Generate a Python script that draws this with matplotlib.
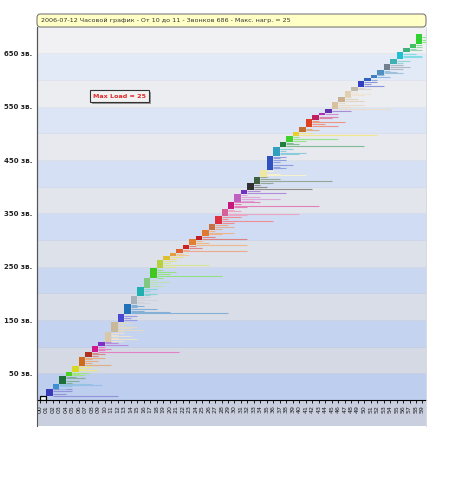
import matplotlib
matplotlib.use("Agg")
import matplotlib.pyplot as plt
from matplotlib.patches import FancyBboxPatch, Rectangle
import matplotlib.colors as mcolors
import numpy as np

# ---------------- data ----------------
title = "2006-07-12 Часовой график - От 10 до 11 - Звонков 686 - Макс. нагр. = 25"
max_load_label = "Max Load = 25"
minutes = list(range(60))
minute_labels = [f"{m:02d}" for m in minutes]

# number of calls starting in each minute (sum = 686)
calls_per_minute = [7, 14, 9, 15, 8, 11, 17, 9, 11, 8,
                    19, 19, 14, 19, 15, 16, 17, 19, 15, 8,
                    6, 8, 6, 11, 7, 11, 11, 15, 14, 13,
                    14, 8, 12, 13, 13, 26, 16, 10, 11, 8,
                    9, 14, 8, 5, 6, 14, 10, 11, 7, 11,
                    5, 7, 9, 11, 10, 13, 7, 7, 19, 0]

minute_colors = ["#f8f8f8", "#3a3ab8", "#3c8fd0", "#1e6e3c", "#50d020",
                 "#d8d820", "#d06a1c", "#b03020", "#d01890", "#8030c0",
                 "#d8c8a8", "#c8b898", "#4848d0", "#2070b8", "#a8b0bc",
                 "#20b0b0", "#80c880", "#40c820", "#b8d040", "#e0c030",
                 "#e0a040", "#e06030", "#d02020", "#e08030", "#c02020",
                 "#e07830", "#c87040", "#e03040", "#d86098", "#c81880",
                 "#c060c0", "#7030c0", "#303030", "#406040", "#f0e8a0",
                 "#3050c0", "#30a0c0", "#208040", "#40d030", "#e8d030",
                 "#c07030", "#e04020", "#c02060", "#b030b0", "#6030b0",
                 "#d8c0a0", "#c8b090", "#e0d0b0", "#c0b8a8", "#3040c0",
                 "#3060c0", "#4080c0", "#5090c0", "#708090", "#40b0b0",
                 "#20c0d0", "#40b080", "#40c060", "#30d030", "#30d030"]

# calls lasting longer than one minute: minute -> [(row within minute, duration in minutes)]
long_calls = {
    1: [(0, 11), (4, 3), (10, 4), (13, 4)],
    2: [(0, 2), (4, 3), (7, 7.5), (8, 6)],
    3: [(2, 2), (6, 3), (10, 4), (13, 2.5)],
    4: [(1, 3), (4, 2), (6, 3.5)],
    5: [(2, 4), (5, 2), (9, 3)],
    6: [(1, 5), (4, 2), (8, 3), (12, 2), (15, 4)],
    7: [(1, 2), (4, 3), (7, 2)],
    8: [(0, 13.5), (3, 2), (6, 3), (9, 2)],
    9: [(2, 4.5), (5, 3), (7, 2)],
    10: [(1, 3), (4, 5), (7, 2), (10, 4), (13, 2), (16, 3)],
    11: [(1, 2), (3, 5), (6, 3), (9, 4), (12, 2), (15, 3), (18, 2)],
    12: [(2, 3), (6, 2), (10, 3)],
    13: [(2, 16), (4, 7), (6, 3), (9, 5), (12, 2), (15, 3), (17, 2)],
    14: [(1, 3), (4, 2), (7, 4), (10, 2), (13, 3)],
    15: [(1, 2), (4, 3), (8, 2), (12, 3)],
    16: [(2, 3), (6, 2), (10, 4), (14, 2)],
    17: [(1, 2), (4, 11), (8, 3), (12, 4), (16, 2)],
    18: [(2, 3), (6, 8), (10, 2), (13, 3)],
    19: [(2, 2), (5, 3)],
    20: [(1, 3), (4, 2)],
    21: [(2, 11), (5, 2)],
    22: [(1, 3), (4, 2)],
    23: [(1, 9), (4, 3), (8, 2)],
    24: [(1, 8), (4, 3)],
    25: [(2, 3), (5, 5), (8, 2)],
    26: [(1, 2), (4, 4), (8, 3)],
    27: [(2, 3), (5, 9), (9, 2), (12, 4)],
    28: [(1, 4), (4, 12), (8, 3), (11, 2)],
    29: [(2, 3), (5, 14), (8, 2), (11, 5)],
    30: [(1, 3), (4, 7), (8, 4), (11, 2)],
    31: [(2, 7), (5, 3)],
    32: [(2, 10), (5, 3), (9, 2)],
    33: [(1, 3), (5, 12), (8, 4), (11, 2)],
    34: [(2, 7), (5, 3), (9, 2)],
    35: [(2, 3), (5, 2), (9, 4), (13, 2), (17, 3), (21, 2), (24, 3)],
    36: [(2, 4), (5, 5), (9, 2), (13, 3)],
    37: [(2, 13), (5, 3), (8, 2)],
    38: [(2, 3), (5, 8), (8, 2)],
    39: [(2, 13), (5, 3)],
    40: [(2, 3), (5, 2)],
    41: [(2, 5), (5, 3), (8, 6), (11, 2)],
    42: [(2, 3), (5, 4)],
    43: [(2, 3)],
    44: [(2, 4)],
    45: [(1, 9), (4, 3), (7, 5), (11, 2)],
    46: [(2, 4), (5, 3), (8, 2)],
    47: [(2, 3), (5, 4), (8, 2)],
    48: [(2, 3), (5, 2)],
    49: [(2, 4), (5, 2), (8, 3)],
    50: [(2, 2)],
    51: [(2, 3), (5, 2)],
    52: [(2, 4), (5, 3), (7, 2)],
    53: [(2, 3), (5, 4), (8, 3)],
    54: [(2, 2), (5, 3)],
    55: [(2, 4), (5, 4), (9, 3)],
    56: [(2, 3), (5, 2)],
    57: [(2, 2), (5, 2)],
    58: [(3, 1.5), (8, 1.5), (14, 1.5)],
}
outlined_minutes = [0]

y_tick_values = [50, 150, 250, 350, 450, 550, 650]
y_tick_labels = [f"{v} зв." for v in y_tick_values]
band_step = 50
y_max = 700

# ---------------- figure ----------------
W, H = 450, 480
fig = plt.figure(figsize=(W / 100, H / 100), dpi=100)
fig.patch.set_facecolor("white")


def fx(px):
    return px / W


def fy(py):
    return 1 - py / H


AX_L, AX_R, AX_T, AX_B = 37, 426, 26.7, 400
ax = fig.add_axes([fx(AX_L), fy(AX_B), (AX_R - AX_L) / W, (AX_B - AX_T) / H])

# tick-label strip under the plot
fig.add_artist(Rectangle((fx(AX_L), fy(426)), (AX_R - AX_L) / W, (426 - AX_B) / H,
                         transform=fig.transFigure, facecolor="#c9cfdf",
                         edgecolor="none", zorder=-2))

# background bands
gray_top, gray_bot = np.array(mcolors.to_rgb("#f2f2f4")), np.array(mcolors.to_rgb("#d0d6e2"))
blue_top, blue_bot = np.array(mcolors.to_rgb("#e6edf8")), np.array(mcolors.to_rgb("#bccdee"))
nb = y_max // band_step
for k in range(nb):
    t = (k + 0.5) / nb
    if k % 2 == 0:
        c = blue_bot * (1 - t) + blue_top * t
    else:
        c = gray_bot * (1 - t) + gray_top * t
    ax.axhspan(k * band_step, (k + 1) * band_step, color=tuple(c), lw=0, zorder=0)
    ax.axhline(k * band_step, color=tuple(c * 0.96), lw=0.5, zorder=0.5)


def lighten(col, f):
    c = np.array(mcolors.to_rgb(col))
    return tuple(c + (1 - c) * f)


row = 0
for m in minutes:
    n = calls_per_minute[m]
    if n == 0:
        continue
    col = minute_colors[m]
    light = lighten(col, 0.45)
    durs = [1.0] * n
    for off, d in long_calls.get(m, []):
        durs[off] = d
    for i in range(n):
        if durs[i] > 1:
            ax.hlines(row + i + 0.5, m + 1, m + durs[i], color=light, lw=0.8, zorder=2)
    ax.barh(np.arange(row, row + n) + 0.5, [1] * n, left=m, height=1.1,
            color=col, lw=0, zorder=3)
    if m in outlined_minutes:
        ax.add_patch(Rectangle((m, row), 1, n, fill=False, ec="black", lw=0.9, zorder=4))
    row += n

ax.set_xlim(-0.46, 59.54)
ax.set_ylim(0, y_max)
ax.set_xticks(minutes)
ax.set_xticklabels(minute_labels, rotation=90, fontsize=4.5, color="#222")
ax.set_yticks(y_tick_values)
ax.set_yticklabels(y_tick_labels, fontsize=5, color="#222", fontweight="bold")
ax.tick_params(axis="x", length=2.5, width=0.6, pad=1, color="black")
ax.tick_params(axis="y", length=0, pad=3.5)
for s in ["top", "right"]:
    ax.spines[s].set_visible(False)
ax.spines["bottom"].set_color("black")
ax.spines["bottom"].set_linewidth(0.8)
ax.spines["left"].set_color("#555")
ax.spines["left"].set_linewidth(0.8)

# frame lines
fig.add_artist(plt.Line2D([fx(AX_L), fx(AX_L)], [fy(426), fy(27)], transform=fig.transFigure,
                          color="#555", lw=0.8))
fig.add_artist(plt.Line2D([fx(AX_R), fx(AX_R)], [fy(426), fy(27)], transform=fig.transFigure,
                          color="#d0d4dc", lw=0.6))

# title bar
fig.add_artist(FancyBboxPatch((fx(AX_L), fy(27)), (AX_R - AX_L) / W, 13 / H,
                              boxstyle="round,pad=0,rounding_size=0.008",
                              transform=fig.transFigure, facecolor="#ffffc6",
                              edgecolor="#7a7a7a", lw=0.8, zorder=5))
fig.text(fx(41), fy(20.5), title, fontsize=4.55, color="#333", va="center", ha="left", zorder=6)

# Max load box with shadow
fig.add_artist(Rectangle((fx(92), fy(104)), 59 / W, 12 / H, transform=fig.transFigure,
                         facecolor="#9a9a9a", edgecolor="none", zorder=5))
fig.add_artist(Rectangle((fx(90), fy(102)), 59 / W, 12 / H, transform=fig.transFigure,
                         facecolor="#f2f2f2", edgecolor="#333", lw=0.8, zorder=6))
fig.text(fx(119.5), fy(96), max_load_label, fontsize=4.6, color="#e02828",
         fontweight="bold", va="center", ha="center", zorder=7)

fig.savefig("out.png", dpi=100)
